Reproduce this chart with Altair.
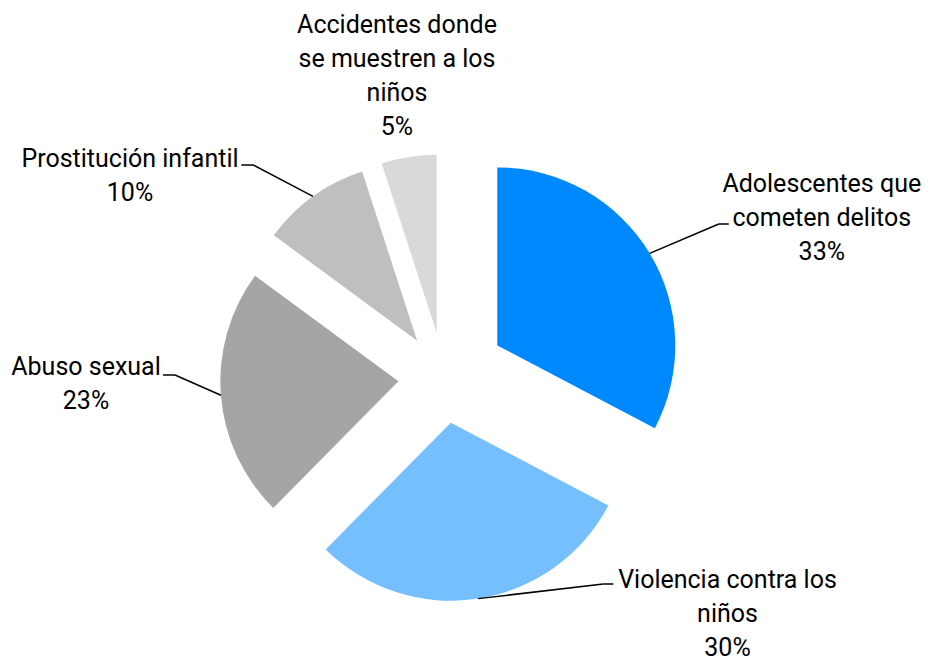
import altair as alt
import pandas as pd

# ---- data ----
categories = [
    "Adolescentes que cometen delitos",
    "Violencia contra los niños",
    "Abuso sexual",
    "Prostitución infantil",
    "Accidentes donde se muestren a los niños",
]
values = [32.7, 29.7, 22.7, 9.9, 5.0]
label_text = [
    "Adolescentes que\ncometen delitos",
    "Violencia contra los\nniños",
    "Abuso sexual",
    "Prostitución infantil",
    "Accidentes donde\nse muestren a los\nniños",
]

# ---- style / layout ----
colors = ["#0088FF", "#75BFFF", "#A5A5A5", "#BFBFBF", "#D9D9D9"]
W, H = 914, 655
CX, CY = 435.8, 369.7
R = 178
explode = [0.351, 0.256, 0.256, 0.256, 0.256]      # fraction of radius
# manual label layout (offsets from pie centre): elbow, hook, text anchor
elbow_dx = [275.0, 159.5, -268.8, -190.5, 0]
elbow_dy = [-153.7, 206.3, -2.7, -212.7, 0]
hook = [10, 10, -12, -12, 0]
text_dx = [378.0, 283.7, -357.8, -313.8, -46.8]
text_dy = [-185.7, 210.0, -2.7, -211.0, -344.4]
FONT = "Roboto"

df = pd.DataFrame({
    "category": categories,
    "value": values,
    "label": label_text,
    "order": list(range(len(categories))),
    "explode": explode,
    "edx": elbow_dx,
    "edy": elbow_dy,
    "hook": hook,
    "tdx": text_dx,
    "tdy": text_dy,
})

base = alt.Chart(df).transform_joinaggregate(
    total="sum(value)"
).transform_window(
    cum="sum(value)", sort=[alt.SortField("order")], frame=[None, 0]
).transform_calculate(
    a0="2*PI*(datum.cum - datum.value)/datum.total",
    a1="2*PI*datum.cum/datum.total",
).transform_calculate(
    mid="(datum.a0 + datum.a1)/2",
    d=f"datum.explode*{R}",
).transform_calculate(
    cx=f"{CX} + datum.d*sin(datum.mid)",
    cy=f"{CY} - datum.d*cos(datum.mid)",
    sx=f"{CX} + (datum.d + {R})*sin(datum.mid)",
    sy=f"{CY} - (datum.d + {R})*cos(datum.mid)",
    ex=f"{CX} + datum.edx",
    ey=f"{CY} + datum.edy",
    hx=f"{CX} + datum.edx + datum.hook",
    tx=f"{CX} + datum.tdx",
    ty=f"{CY} + datum.tdy",
    txt="datum.label + '\\n' + format(datum.value/datum.total, '.0%')",
)

arcs = base.mark_arc(radius=R, stroke=None).encode(
    x=alt.X("cx:Q", scale=None, axis=None),
    y=alt.Y("cy:Q", scale=None, axis=None),
    theta=alt.Theta("a0:Q", scale=None, stack=None),
    theta2="a1:Q",
    color=alt.Color("category:N", scale=alt.Scale(domain=categories, range=colors), legend=None),
)

leaders = base.transform_filter("datum.hook != 0")

seg1 = leaders.mark_rule(color="#000000", strokeWidth=1.5).encode(
    x=alt.X("sx:Q", scale=None, axis=None),
    y=alt.Y("sy:Q", scale=None, axis=None),
    x2="ex:Q",
    y2="ey:Q",
)
seg2 = leaders.mark_rule(color="#000000", strokeWidth=1.5).encode(
    x=alt.X("ex:Q", scale=None, axis=None),
    y=alt.Y("ey:Q", scale=None, axis=None),
    x2="hx:Q",
    y2="ey:Q",
)

labels = base.mark_text(
    font=FONT, fontSize=25, lineBreak="\n", lineHeight=34,
    align="center", baseline="alphabetic", color="#000000",
).encode(
    x=alt.X("tx:Q", scale=None, axis=None),
    y=alt.Y("ty:Q", scale=None, axis=None),
    text="txt:N",
)

chart = alt.layer(arcs, seg1, seg2, labels).properties(
    width=W, height=H, padding=0, autosize="none"
).configure_view(stroke=None)

chart.save("out.html", embed_options={"renderer": "svg", "actions": False})
